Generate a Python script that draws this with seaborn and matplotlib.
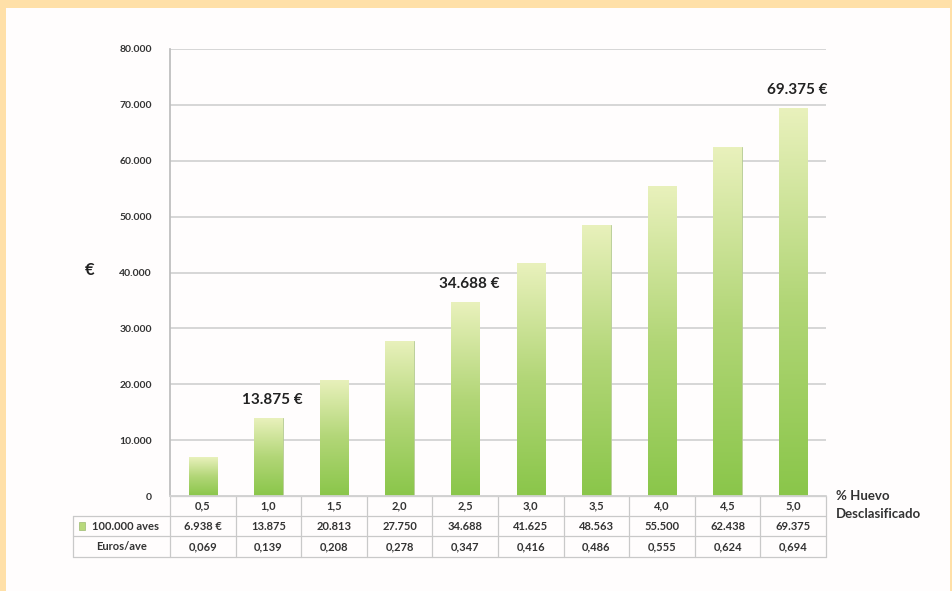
import numpy as np
import pandas as pd
import matplotlib
matplotlib.use("Agg")
import matplotlib.pyplot as plt
import matplotlib.transforms as mtransforms
from matplotlib.colors import LinearSegmentedColormap
from matplotlib.patches import Rectangle
from matplotlib.ticker import FuncFormatter
import seaborn as sns

# ---- data ----
categories = ["0,5", "1,0", "1,5", "2,0", "2,5", "3,0", "3,5", "4,0", "4,5", "5,0"]
values = [6938, 13875, 20813, 27750, 34688, 41625, 48563, 55500, 62438, 69375]
aves_row = ["6.938 €", "13.875", "20.813", "27.750", "34.688",
            "41.625", "48.563", "55.500", "62.438", "69.375"]
euros_row = ["0,069", "0,139", "0,208", "0,278", "0,347",
             "0,416", "0,486", "0,555", "0,624", "0,694"]
annotated = [1, 4, 9]
y_ticks = [0, 10000, 20000, 30000, 40000, 50000, 60000, 70000, 80000]
row_labels = ["100.000 aves", "Euros/ave"]
x_title = "% Huevo\nDesclasificado"
y_title = "€"

sns.set_theme(style="white")
plt.rcParams['font.family'] = ['Lato', 'DejaVu Sans']

W, H = 953, 591
fig = plt.figure(figsize=(W / 100, H / 100), dpi=100, facecolor='#FFE0A8')
fig.patches.append(Rectangle((6 / W, 0), (950 - 6) / W, 1 - 8 / H,
                             transform=fig.transFigure, facecolor='#FFFDFD',
                             edgecolor='none', zorder=-10))

ax = fig.add_axes([170 / W, 1 - 496 / H, 656 / W, 447 / H])
ax.set_facecolor('none')

df = pd.DataFrame({'pct': categories, 'eur': values})
sns.barplot(data=df, x='pct', y='eur', ax=ax, color='#A8D468', width=0.43,
            saturation=1, edgecolor='#B9CC9A', linewidth=0.6, zorder=2)

# gradient fill for each bar
cmap = LinearSegmentedColormap.from_list('g', ['#8AC64A', '#B2D677', '#E9F1BC'])
grad = np.linspace(0, 1, 256).reshape(-1, 1)
for p in list(ax.patches):
    x0, y0, w, h = p.get_x(), p.get_y(), p.get_width(), p.get_height()
    im = ax.imshow(grad, extent=[x0, x0 + w, y0, y0 + h], origin='lower',
                   cmap=cmap, aspect='auto', zorder=2.5, interpolation='bilinear')
    im.set_clip_path(p)

ax.set_xlim(-0.5, 9.5)
ax.set_ylim(0, 80000)
ax.set_yticks(y_ticks)
ax.yaxis.set_major_formatter(FuncFormatter(lambda v, _: f"{int(v):,}".replace(',', '.')))
ax.yaxis.grid(True, color='#D3D3D3', lw=1.3)
ax.set_axisbelow(True)
for s in ['top', 'right']:
    ax.spines[s].set_visible(False)
ax.spines['left'].set_color('#BDBDBD')
ax.spines['bottom'].set_color('#D3D3D3')
ax.tick_params(axis='y', length=4, color='#D3D3D3', pad=9, labelsize=7.5, labelcolor='#333333')
for t in ax.get_yticklabels():
    t.set_fontweight('bold')
ax.set_xticklabels([])
ax.tick_params(axis='x', length=0)
ax.set_xlabel('')
ax.set_ylabel(y_title, rotation=0, fontsize=12, fontweight='bold', color='#222222')
ax.yaxis.set_label_coords((90 - 170) / 656, (496 - 278) / 447)

# annotations
for i in annotated:
    v = values[i]
    ax.annotate(f"{v:,}".replace(',', '.') + " €", (i, v), xytext=(3, 8),
                textcoords='offset points', ha='center', va='bottom',
                fontsize=11, fontweight='bold', color='#222222')

# ---- data table below ----
tr = mtransforms.blended_transform_factory(ax.transData, ax.transAxes)
y_rows = [0, -(516 - 496) / 447, -(536 - 496) / 447, -(557 - 496) / 447]
x_left = -0.5 + (73 - 170) / 65.6
lc = '#C9C9C9'
for k, yy in enumerate(y_rows):
    xs = -0.5 if k == 0 else x_left
    ax.plot([xs, 9.5], [yy, yy], transform=tr, clip_on=False, color=lc, lw=0.9)
for i in range(11):
    ax.plot([i - 0.5, i - 0.5], [0, y_rows[-1]], transform=tr, clip_on=False, color=lc, lw=0.9)
ax.plot([x_left, x_left], [y_rows[1], y_rows[-1]], transform=tr, clip_on=False, color=lc, lw=0.9)

mids = [(y_rows[k] + y_rows[k + 1]) / 2 for k in range(3)]
for i in range(10):
    ax.text(i, mids[0], categories[i], transform=tr, ha='center', va='center',
            fontsize=8, fontweight='bold', color='#333333')
    ax.text(i, mids[1], aves_row[i], transform=tr, ha='center', va='center',
            fontsize=8, fontweight='bold', color='#333333')
    ax.text(i, mids[2], euros_row[i], transform=tr, ha='center', va='center',
            fontsize=8, fontweight='bold', color='#333333')

hx = (x_left - 0.5) / 2
ax.add_patch(Rectangle((x_left + 0.09, mids[1] - 0.008), 0.09, 0.016, transform=tr,
                       facecolor='#B8D97C', edgecolor='#9DBA70', lw=0.5, clip_on=False))
ax.text(hx + 0.06, mids[1], row_labels[0], transform=tr, ha='center', va='center',
        fontsize=8, fontweight='bold', color='#333333')
ax.text(hx, mids[2], row_labels[1], transform=tr, ha='center', va='center',
        fontsize=8, fontweight='bold', color='#333333')

ax.text((836 - 170) / 656, (496 - 490) / 447, x_title, transform=ax.transAxes,
        ha='left', va='top', fontsize=9.5, fontweight='bold', color='#333333',
        linespacing=1.55)

fig.savefig('out.png', dpi=100, facecolor=fig.get_facecolor())
